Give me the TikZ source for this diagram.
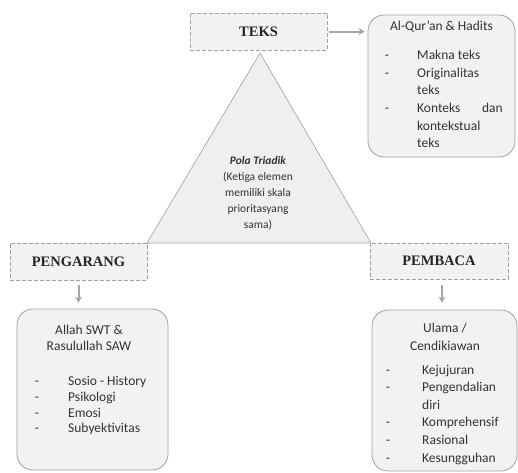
\documentclass[tikz,border=0pt]{standalone}
\usepackage{fontspec}
\setmainfont{Carlito}
\newfontfamily\titlefont{Liberation Serif}
\usetikzlibrary{arrows.meta,calc}
\definecolor{boxfill}{HTML}{F2F2F2}
\definecolor{boxline}{HTML}{A0A0A0}
\definecolor{arrowcol}{HTML}{A6A6A6}
\definecolor{trifill}{HTML}{EFEFEF}
\begin{document}
\begin{tikzpicture}[x=1pt,y=-1pt,
  titlebox/.style={draw=boxline,fill=boxfill,dashed,line width=1pt,dash pattern=on 4pt off 2pt,inner sep=0pt},
  titletext/.style={font=\titlefont\bfseries\fontsize{14.5}{16}\selectfont,text=black!85},
  roundbox/.style={draw=boxline,fill=boxfill,rounded corners=16pt,line width=0.8pt,inner sep=0pt},
  body/.style={font=\fontsize{13.5}{17}\selectfont,text=black!80,inner sep=0pt},
  tri/.style={font=\fontsize{11.5}{15}\selectfont,text=black!80,inner sep=0pt},
  conn/.style={draw=arrowcol,line width=2pt,-{Stealth[length=6pt,width=7pt]}}]
\useasboundingbox (0,0) rectangle (518,472);
% triangle
\coordinate (tA) at (260,53);
\coordinate (tB) at (147,243);
\coordinate (tC) at (371,243);
\filldraw[fill=trifill,draw=boxline,line width=0.6pt] (tA) -- (tB) -- (tC) -- cycle;
\node[tri,anchor=mid] (t1) at (258,162) {\textbf{\textit{Pola Triadik}}};
\node[tri,anchor=mid] (t2) at (258,178) {(Ketiga elemen};
\node[tri,anchor=mid] (t3) at (258,194) {memiliki skala};
\node[tri,anchor=mid] (t4) at (258,210) {prioritasyang};
\node[tri,anchor=mid] (t5) at (258,226) {sama)};
% title boxes
\node[titlebox,minimum width=137pt,minimum height=37pt] (teks) at (258.5,31.5) {};
\node[titletext] at (teks.center) {TEKS};
\node[titlebox,minimum width=137pt,minimum height=37pt] (peng) at (78.5,261.5) {};
\node[titletext] at (peng.center) {PENGARANG};
\node[titlebox,minimum width=138pt,minimum height=36pt] (pemb) at (439,261) {};
\node[titletext] at (pemb.center) {PEMBACA};
% rounded boxes
\node[roundbox,minimum width=147pt,minimum height=142pt] (quran) at (441.5,86) {};
\node[roundbox,minimum width=151pt,minimum height=161pt] (allah) at (92.5,389.5) {};
\node[roundbox,minimum width=145pt,minimum height=161pt] (ulama) at (444.5,390.5) {};
% arrows
\draw[conn,shorten <=1pt,shorten >=3pt] (teks.east) -- (teks.east -| quran.west);
\draw[conn,shorten <=4pt,shorten >=6pt] (peng.south) -- (peng.south |- allah.north);
\coordinate (pembs) at ([xshift=3pt]pemb.south);
\draw[conn,shorten <=5pt,shorten >=7pt] (pembs) -- (pembs |- ulama.north);
% quran text
\node[body,anchor=mid] (q0) at (441.5,28) {Al-Qur'an \& Hadits};
\foreach \y in {57,75,110}{\node[body,anchor=mid] at (387,\y) {-};}
\node[body,anchor=mid west] (q1) at (417,57) {Makna teks};
\node[body,anchor=mid west] (q2) at (417,75) {Originalitas};
\node[body,anchor=mid west] (q3) at (417,92) {teks};
\node[body,anchor=mid west] (q4) at (417,110) {Konteks};
\node[body,anchor=mid east] (q4b) at (503,110) {dan};
\node[body,anchor=mid west] (q5) at (417,128) {kontekstual};
\node[body,anchor=mid west] (q6) at (417,145) {teks};
% allah text
\node[body,anchor=mid] (a0) at (89,332) {Allah SWT \&};
\node[body,anchor=mid] (a1) at (89,348) {Rasulullah SAW};
\foreach \y in {383,399,415,430}{\node[body,anchor=mid] at (37,\y) {-};}
\node[body,anchor=mid west] (a2) at (68,383) {Sosio - History};
\node[body,anchor=mid west] (a3) at (68,399) {Psikologi};
\node[body,anchor=mid west] (a4) at (68,415) {Emosi};
\node[body,anchor=mid west] (a5) at (68,430) {Subyektivitas};
% ulama text
\node[body,anchor=mid] (u0) at (445,330) {Ulama /};
\node[body,anchor=mid] (u1) at (445,348) {Cendikiawan};
\foreach \y in {372,389,424,442,460}{\node[body,anchor=mid] at (388,\y) {-};}
\node[body,anchor=mid west] (u2) at (422,372) {Kejujuran};
\node[body,anchor=mid west] (u3) at (422,389) {Pengendalian};
\node[body,anchor=mid west] (u4) at (422,407) {diri};
\node[body,anchor=mid west] (u5) at (422,424) {Komprehensif};
\node[body,anchor=mid west] (u6) at (422,442) {Rasional};
\node[body,anchor=mid west] (u7) at (422,460) {Kesungguhan};
\end{tikzpicture}
\end{document}
